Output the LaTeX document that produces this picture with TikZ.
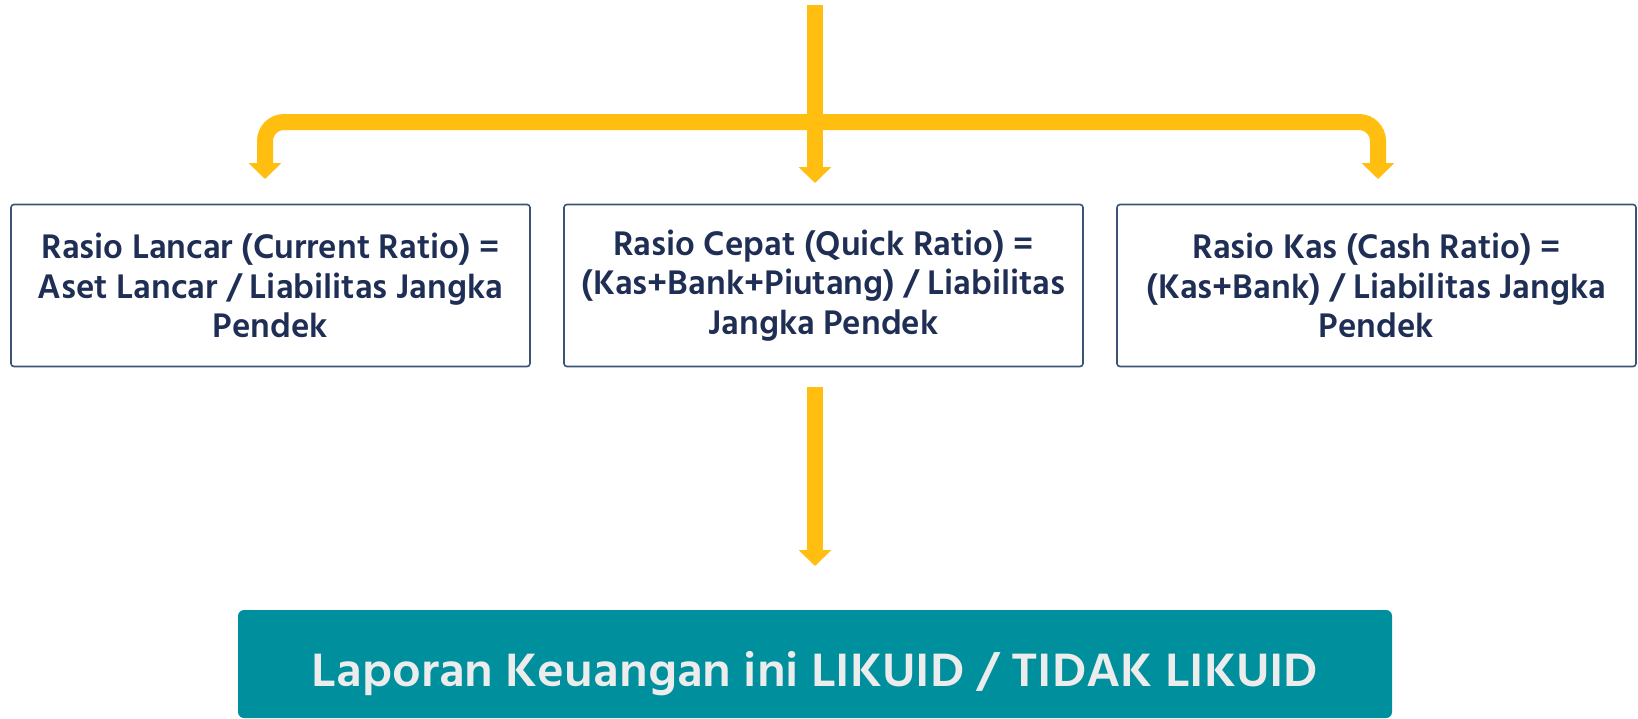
\documentclass[tikz,border=0pt]{standalone}
\usepackage{fontspec}
\setmainfont{Hind Siliguri}
\newfontfamily\resultfont{Hind Siliguri SemiBold}[FakeStretch=1.06]
\usetikzlibrary{arrows.meta}

\definecolor{arrowgold}{RGB}{255,190,16}
\definecolor{boxline}{RGB}{59,84,117}
\definecolor{ratiotext}{RGB}{31,46,84}
\definecolor{resultteal}{RGB}{0,143,156}
\definecolor{resulttext}{RGB}{236,236,236}

\tikzset{
  ratiobox/.style={draw=boxline, line width=1.6pt, rounded corners=3pt, fill=white,
    minimum width=519pt, minimum height=162pt, inner sep=0pt, align=center,
    text=ratiotext, font=\fontsize{35}{39.5}\selectfont\bfseries},
  resultbox/.style={fill=resultteal, rounded corners=6pt, minimum width=1154pt,
    minimum height=108pt, inner sep=0pt, text=resulttext,
    text height=52pt, text depth=8pt, font=\resultfont\fontsize{48}{56}\selectfont},
  flow/.style={draw=arrowgold, line width=16pt, -{Triangle[width=32pt,length=16pt]}},
}

\begin{document}
\begin{tikzpicture}[x=1pt,y=-1pt]
  \useasboundingbox (0,0) rectangle (1638,718);

  % ratio boxes
  \node[ratiobox] (lancar) at (270.5,285.5) {Rasio Lancar (Current Ratio) =\\Aset Lancar / Liabilitas Jangka\\Pendek};
  \node[ratiobox] (cepat) at (823.5,285.5) {Rasio Cepat (Quick Ratio) =\\(Kas+Bank+Piutang) / Liabilitas\\Jangka Pendek};
  \node[ratiobox] (kas) at (1376.5,285.5) {Rasio Kas (Cash Ratio) =\\(Kas+Bank) / Liabilitas Jangka\\Pendek};

  % result
  \node[resultbox] (hasil) at (815,664) {Laporan Keuangan ini LIKUID / TIDAK LIKUID};

  % arrows
  \coordinate (src) at (815,5);
  \coordinate (fork) at (815,122);
  \coordinate (tipL) at (265,179);
  \coordinate (tipM) at (815,183);
  \coordinate (tipR) at (1378,179);
  \coordinate (out) at (815,387);
  \coordinate (tipB) at (815,566);

  \draw[flow] (src) -- (tipM);
  \draw[flow, rounded corners=19pt] (fork) -| (tipL);
  \draw[flow, rounded corners=19pt] (fork) -| (tipR);
  \draw[flow] (out) -- (tipB);
\end{tikzpicture}
\end{document}
